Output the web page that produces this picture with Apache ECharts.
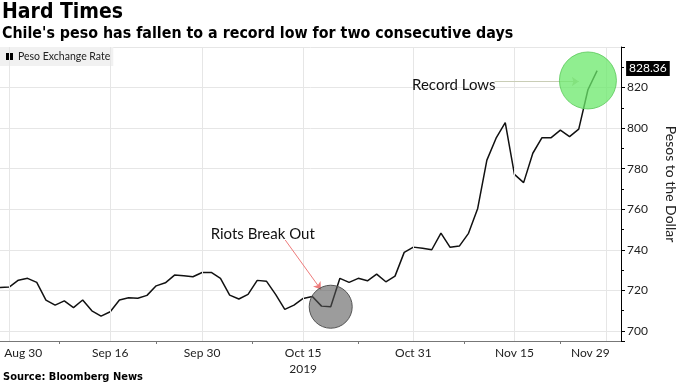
<!DOCTYPE html>
<html><head><meta charset="utf-8">
<script src="https://cdn.jsdelivr.net/npm/echarts@6/dist/echarts.min.js"></script>
<style>html,body{margin:0;padding:0;background:#fff}#c{width:683px;height:384px}</style>
</head><body><div id="c"></div>
<script>
// ---- data ----
const titleText = 'Hard Times';
const subtitleText = "Chile's peso has fallen to a record low for two consecutive days";
const sourceText = 'Source: Bloomberg News';
const seriesName = 'Peso Exchange Rate';
const yAxisName = 'Pesos to the Dollar';
const startDate = '2019-08-29';           // first trading day shown (weekdays only)
const axisDayCount = 68;                   // weekdays on the axis (through Dec 2)
const pesoValues = [
  721.4, 721.6, 725.0, 725.9, 723.9, 715.2, 712.7, 714.8, 711.5, 715.2,
  709.9, 707.3, 709.4, 715.2, 716.3, 716.1, 717.5, 722.2, 723.7, 727.5,
  727.2, 726.7, 728.8, 728.8, 725.9, 717.6, 715.7, 718.0, 724.9, 724.5,
  718.0, 710.6, 712.7, 716.0, 717.0, 712.2, 711.9, 725.9, 723.9, 725.9,
  724.7, 728.0, 724.2, 727.0, 738.7, 741.3, 740.8, 740.0, 748.2, 741.2,
  741.8, 748.1, 760.4, 784.2, 795.0, 802.7, 777.2, 773.1, 787.6, 795.3,
  795.3, 799.0, 795.8, 799.5, 818.9, 828.36
];
const tickLabelDates = ['2019-08-30','2019-09-16','2019-09-30','2019-10-15','2019-10-31','2019-11-15','2019-11-29'];
const yearLabelDate = '2019-10-15';
const yearLabel = '2019';
const yTicks = { min: 695, max: 840 };
const riotsText = 'Riots Break Out';
const riotsDate = '2019-10-18';
const recordText = 'Record Lows';

// ---- helpers ----
function weekdays(start, n) {
  const out = [];
  const d = new Date(start + 'T00:00:00Z');
  while (out.length < n) {
    const wd = d.getUTCDay();
    if (wd !== 0 && wd !== 6) out.push(d.toISOString().slice(0, 10));
    d.setUTCDate(d.getUTCDate() + 1);
  }
  return out;
}
const days = weekdays(startDate, axisDayCount);
const MON = ['Jan','Feb','Mar','Apr','May','Jun','Jul','Aug','Sep','Oct','Nov','Dec'];
const labelIdx = tickLabelDates.map(s => days.indexOf(s));
const minorIdx = labelIdx.slice(1).map((v, i) => (v + labelIdx[i]) / 2);
const seriesData = pesoValues.map((v, i) => [i, v]);
const riotsIdx = days.indexOf(riotsDate);

const FONT = 'Lato, "Liberation Sans", sans-serif';
const TFONT = '"DejaVu Sans Condensed", "DejaVu Sans", sans-serif';

function dayLabel(v) {
  const i = Math.round(v);
  const d = days[i];
  const s = MON[+d.slice(5, 7) - 1] + ' ' + (+d.slice(8, 10));
  if (i === labelIdx[0]) return '{first|' + s + '}';
  if (i === labelIdx[labelIdx.length - 1]) return '{last|' + s + '}';
  if (d === yearLabelDate) return s + '\n' + yearLabel;
  return s;
}

const chart = echarts.init(document.getElementById('c'), null, { renderer: 'canvas' });
chart.setOption({
  animation: false,
  backgroundColor: '#fff',
  title: [
    { text: titleText, left: 2, top: 2, padding: 0,
      textStyle: { fontFamily: TFONT, fontWeight: 'bold', fontSize: 21, color: '#000' } },
    { text: subtitleText, left: 2, top: 26, padding: 0,
      textStyle: { fontFamily: TFONT, fontWeight: 'bold', fontSize: 15.85, color: '#000' } },
    { text: sourceText, left: 3, top: 372, padding: 0,
      textStyle: { fontFamily: TFONT, fontWeight: 'bold', fontSize: 11, color: '#000' } }
  ],
  legend: {
    left: 0, top: 47, padding: [4, 3, 4, 6],
    backgroundColor: '#f1f1f1',
    itemWidth: 7, itemHeight: 7,
    itemStyle: { color: '#000', borderWidth: 0, decal: 'none' },
    data: [{ name: seriesName, icon: 'path://M0,0L10,0L10,10L0,10Z' }],
    textStyle: { fontFamily: FONT, fontSize: 10.5, color: '#222' }
  },
  grid: { left: 0, right: 62, top: 47, bottom: 43, containLabel: false, outerBoundsMode: 'none' },
  xAxis: {
    type: 'value', min: 0, max: axisDayCount - 0.4,
    axisLine: { show: true, onZero: false, lineStyle: { color: '#777', width: 1 } },
    axisTick: { show: true, customValues: minorIdx, length: 3, lineStyle: { color: '#777' } },
    splitLine: { show: false },
    axisLabel: {
      customValues: labelIdx, formatter: dayLabel,
      fontFamily: FONT, fontSize: 12, color: '#222', margin: 4, lineHeight: 16,
      rich: {
        first: { fontFamily: FONT, fontSize: 12, color: '#222', padding: [0, 0, 0, 28] },
        last: { fontFamily: FONT, fontSize: 12, color: '#222', padding: [0, 32, 0, 0] }
      }
    }
  },
  yAxis: {
    type: 'value', position: 'right', min: yTicks.min, max: yTicks.max, splitNumber: 7,
    axisLine: { show: true, onZero: false, lineStyle: { color: '#000', width: 1 } },
    axisTick: { show: true, inside: false, length: 4, lineStyle: { color: '#000' } },
    minorTick: { show: true, splitNumber: 2, length: 3, lineStyle: { color: '#000' } },
    splitLine: { show: true, lineStyle: { color: '#e6e6e6', width: 1 } },
    axisLabel: { showMinLabel: false, showMaxLabel: false, margin: 6,
      fontFamily: FONT, fontSize: 12, color: '#222' },
    name: yAxisName, nameLocation: 'middle', nameRotate: -90, nameGap: 43,
    nameTextStyle: { fontFamily: FONT, fontSize: 14, color: '#222', padding: [0, 20, 0, 0] }
  },
  series: [
    {
      // legend swatch carrier (no data, draws nothing)
      name: seriesName, type: 'bar', data: [], itemStyle: { color: '#000' }
    },
    {
      name: 'grid', type: 'line', data: [], silent: true, z: 1,
      markLine: {
        silent: true, symbol: ['none', 'none'], label: { show: false },
        lineStyle: { color: '#e6e6e6', type: 'solid', width: 1 },
        data: labelIdx.map(i => ({ xAxis: i }))
      }
    },
    {
      name: seriesName, type: 'line', data: seriesData, z: 3,
      showSymbol: false, symbol: 'none',
      lineStyle: { color: '#111', width: 1.5 },
      itemStyle: { color: '#000' },
      endLabel: {
        show: true, formatter: p => p.value[1].toFixed(2), distance: 29, offset: [0, -2],
        color: '#fff', backgroundColor: '#000', padding: [2, 3, 1, 3],
        fontFamily: FONT, fontSize: 12
      },
      markLine: {
        silent: true, symbol: ['none', 'arrow'], symbolSize: 7,
        label: { show: false },
        data: [
          [ { coord: [31.05, 744.8], lineStyle: { color: '#ee7b7b', width: 1, type: 'solid' } },
            { coord: [34.93, 720.4] } ],
          [ { coord: [53.85, 823.0], lineStyle: { color: '#c9cdb6', width: 1, type: 'solid' } },
            { coord: [63.0, 823.0] } ]
        ]
      },
      markPoint: {
        silent: true,
        data: [
          { coord: [riotsIdx, pesoValues[riotsIdx]], symbol: 'circle', symbolSize: 43,
            itemStyle: { color: 'rgba(85,85,85,0.58)', borderColor: '#555', borderWidth: 1 },
            label: { show: false } },
          { coord: [64, 823.5], symbol: 'circle', symbolSize: 57,
            itemStyle: { color: 'rgba(107,232,107,0.75)', borderColor: 'rgba(90,200,90,0.8)', borderWidth: 1 },
            label: { show: false } },
          { coord: [28.6, 747.7], symbol: 'circle', symbolSize: 1,
            itemStyle: { color: 'rgba(0,0,0,0)' },
            label: { show: true, position: 'inside', formatter: riotsText,
              fontFamily: FONT, fontSize: 15, color: '#111' } },
          { coord: [49.4, 821.3], symbol: 'circle', symbolSize: 1,
            itemStyle: { color: 'rgba(0,0,0,0)' },
            label: { show: true, position: 'inside', formatter: recordText,
              fontFamily: FONT, fontSize: 15, color: '#111' } }
        ]
      }
    }
  ]
});
</script>
</body></html>
